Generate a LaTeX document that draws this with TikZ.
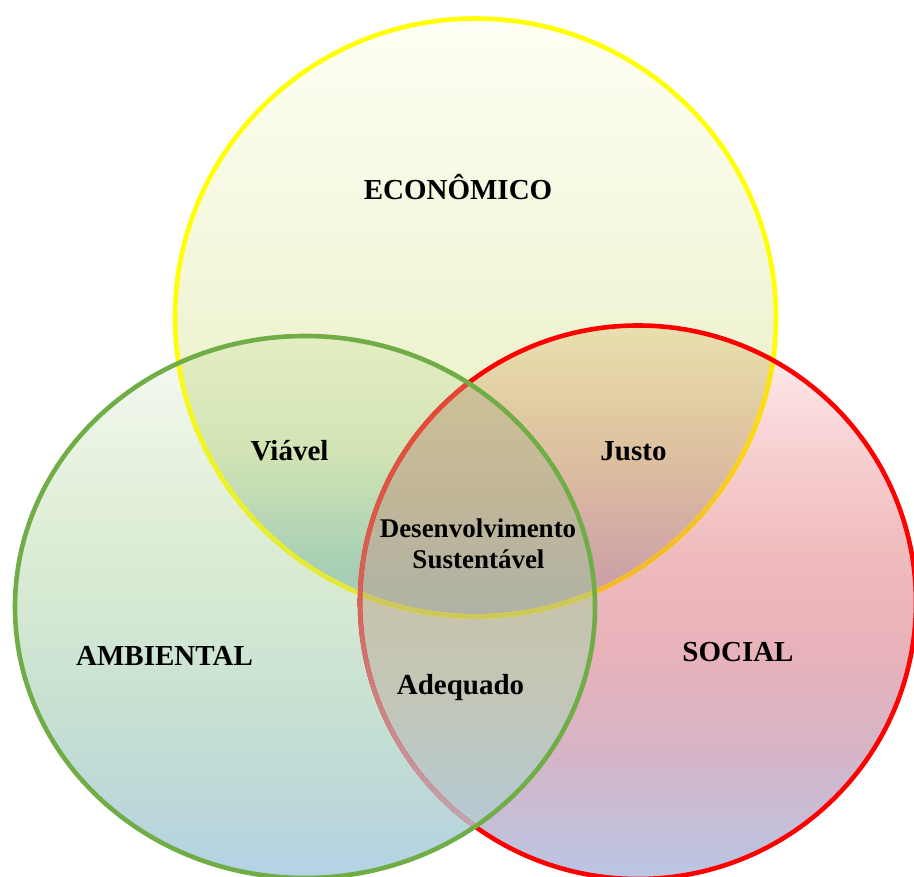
\documentclass[tikz,border=0pt]{standalone}
\usepackage{fontspec}
\setmainfont{Liberation Serif}
% outline colours
\definecolor{lnY}{RGB}{255,255,0}
\definecolor{lnR}{RGB}{255,0,0}
\definecolor{lnG}{RGB}{112,173,71}
% yellow alone
\definecolor{yT}{RGB}{255,255,245}
\definecolor{yB}{RGB}{226,234,182}
% green alone
\definecolor{gA}{RGB}{246,250,242}
\definecolor{gB}{RGB}{220,236,212}
\definecolor{gC}{RGB}{200,226,210}
\definecolor{gD}{RGB}{188,216,216}
\definecolor{gE}{RGB}{180,210,230}
% red alone
\definecolor{rA}{RGB}{255,242,242}
\definecolor{rB}{RGB}{248,208,210}
\definecolor{rC}{RGB}{240,188,190}
\definecolor{rD}{RGB}{232,178,186}
\definecolor{rE}{RGB}{214,180,198}
\definecolor{rF}{RGB}{186,198,228}
% yellow & green
\definecolor{ygA}{RGB}{228,238,196}
\definecolor{ygB}{RGB}{210,228,180}
\definecolor{ygC}{RGB}{172,210,180}
\definecolor{ygD}{RGB}{158,200,182}
% yellow & red
\definecolor{yrA}{RGB}{234,224,176}
\definecolor{yrB}{RGB}{226,206,162}
\definecolor{yrC}{RGB}{220,188,160}
\definecolor{yrD}{RGB}{212,172,164}
\definecolor{yrE}{RGB}{198,152,170}
% green & red
\definecolor{grA}{RGB}{205,192,160}
\definecolor{grB}{RGB}{200,195,170}
\definecolor{grC}{RGB}{194,198,184}
\definecolor{grD}{RGB}{180,202,212}
\definecolor{grE}{RGB}{176,204,222}
% all three
\definecolor{tA}{RGB}{208,194,150}
\definecolor{tB}{RGB}{192,182,152}
\definecolor{tC}{RGB}{174,178,166}
% tinted outlines
\definecolor{rlA}{RGB}{228,70,50}
\definecolor{rlB}{RGB}{212,100,90}
\definecolor{rlC}{RGB}{192,168,180}
\definecolor{ylrA}{RGB}{255,240,0}
\definecolor{ylrB}{RGB}{255,232,10}
\definecolor{ylrC}{RGB}{245,185,45}
\definecolor{ylgA}{RGB}{250,252,20}
\definecolor{ylgB}{RGB}{225,232,60}
\definecolor{ylt}{RGB}{205,200,92}

\pgfdeclareverticalshading{shYel}{100bp}{color(0bp)=(yB); color(25bp)=(yB); color(75bp)=(yT); color(100bp)=(yT)}
\pgfdeclareverticalshading{shGrn}{100bp}{color(0bp)=(gE); color(25bp)=(gE); color(32.1bp)=(gD); color(41.2bp)=(gC); color(55bp)=(gB); color(75bp)=(gA); color(100bp)=(gA)}
\pgfdeclareverticalshading{shRed}{100bp}{color(0bp)=(rF); color(25bp)=(rF); color(36.4bp)=(rE); color(45.5bp)=(rD); color(54.5bp)=(rC); color(63.5bp)=(rB); color(75bp)=(rA); color(100bp)=(rA)}
\pgfdeclareverticalshading{shYG}{100bp}{color(0bp)=(ygD); color(25bp)=(ygD); color(37.1bp)=(ygC); color(54.3bp)=(ygB); color(75bp)=(ygA); color(100bp)=(ygA)}
\pgfdeclareverticalshading{shYR}{100bp}{color(0bp)=(yrE); color(25bp)=(yrE); color(40.1bp)=(yrD); color(50.2bp)=(yrC); color(61.9bp)=(yrB); color(75bp)=(yrA); color(100bp)=(yrA)}
\pgfdeclareverticalshading{shGR}{100bp}{color(0bp)=(grE); color(25bp)=(grE); color(29.6bp)=(grD); color(42.5bp)=(grC); color(53.3bp)=(grB); color(75bp)=(grA); color(100bp)=(grA)}
\pgfdeclareverticalshading{shT}{100bp}{color(0bp)=(tC); color(25bp)=(tC); color(49bp)=(tB); color(75bp)=(tA); color(100bp)=(tA)}
\pgfdeclareverticalshading{shRL}{100bp}{color(0bp)=(rlC); color(29.4bp)=(rlC); color(50.1bp)=(rlB); color(69.9bp)=(rlA); color(100bp)=(rlA)}
\pgfdeclareverticalshading{shYLR}{100bp}{color(0bp)=(ylrC); color(29.85bp)=(ylrC); color(46.4bp)=(ylrB); color(75bp)=(ylrA); color(100bp)=(ylrA)}
\pgfdeclareverticalshading{shYLG}{100bp}{color(0bp)=(ylgB); color(27.4bp)=(ylgB); color(46.4bp)=(ylgA); color(100bp)=(ylgA)}

\tikzset{
  lbl/.style={font=\bfseries\fontsize{29}{34}\selectfont, inner sep=0pt, anchor=base, text=black},
  lblc/.style={font=\bfseries\fontsize{27}{32}\selectfont, inner sep=0pt, anchor=base, text=black},
  ring/.style={line width=4.6pt},
}

\begin{document}
\begin{tikzpicture}[x=1pt,y=-1pt]
\useasboundingbox (0,0) rectangle (914,877);
\coordinate (cY) at (475.5,317.5);
\coordinate (cG) at (305,607);
\coordinate (cR) at (638,602.25);
\def\pY{(cY) ellipse (300.5pt and 299pt)}
\def\pG{(cG) ellipse (290pt and 271pt)}
\def\pR{(cR) ellipse (278pt and 276.75pt)}

% single fills
\begin{scope}\clip \pY; \shade[shading=shYel] (0,14) rectangle (914,620);\end{scope}
\begin{scope}\clip \pG; \shade[shading=shGrn] (0,332) rectangle (914,877);\end{scope}
\begin{scope}\clip \pR; \shade[shading=shRed] (0,322) rectangle (914,877);\end{scope}
% pair overlaps
\begin{scope}\clip \pY; \clip \pG; \shade[shading=shYG] (0,330) rectangle (914,620);\end{scope}
\begin{scope}\clip \pY; \clip \pR; \shade[shading=shYR] (0,322) rectangle (914,620);\end{scope}
\begin{scope}\clip \pG; \clip \pR; \shade[shading=shGR] (0,370) rectangle (914,877);\end{scope}
% triple overlap
\begin{scope}\clip \pY; \clip \pG; \clip \pR; \shade[shading=shT] (0,370) rectangle (914,620);\end{scope}

% yellow outline
\draw[ring, lnY] \pY;
\begin{scope}\clip \pR;
  \shade[shading=shYLR, even odd rule] (cY) ellipse (302.8pt and 301.3pt) (cY) ellipse (298.2pt and 296.7pt);
\end{scope}
\begin{scope}\clip \pG;
  \shade[shading=shYLG, even odd rule] (cY) ellipse (302.8pt and 301.3pt) (cY) ellipse (298.2pt and 296.7pt);
\end{scope}
\begin{scope}\clip \pG; \clip \pR;
  \draw[ring, ylt] \pY;
\end{scope}
% red outline
\draw[ring, lnR] \pR;
\begin{scope}\clip \pG;
  \shade[shading=shRL, even odd rule] (cR) ellipse (280.3pt and 279.05pt) (cR) ellipse (275.7pt and 274.45pt);
\end{scope}
% green outline
\draw[ring, lnG] \pG;

% labels
\node[lbl] (eco) at (458,200) {ECONÔMICO};
\node[lbl] (via) at (289.5,461) {Viável};
\node[lbl] (jus) at (633.5,461) {Justo};
\node[lblc] (des) at (478,537) {Desenvolvimento};
\node[lblc] (sus) at (478.5,568) {Sustentável};
\node[lbl] (amb) at (164.5,665) {AMBIENTAL};
\node[lbl] (soc) at (738,661) {SOCIAL};
\node[lbl] (ade) at (460.5,694) {Adequado};
\end{tikzpicture}
\end{document}
